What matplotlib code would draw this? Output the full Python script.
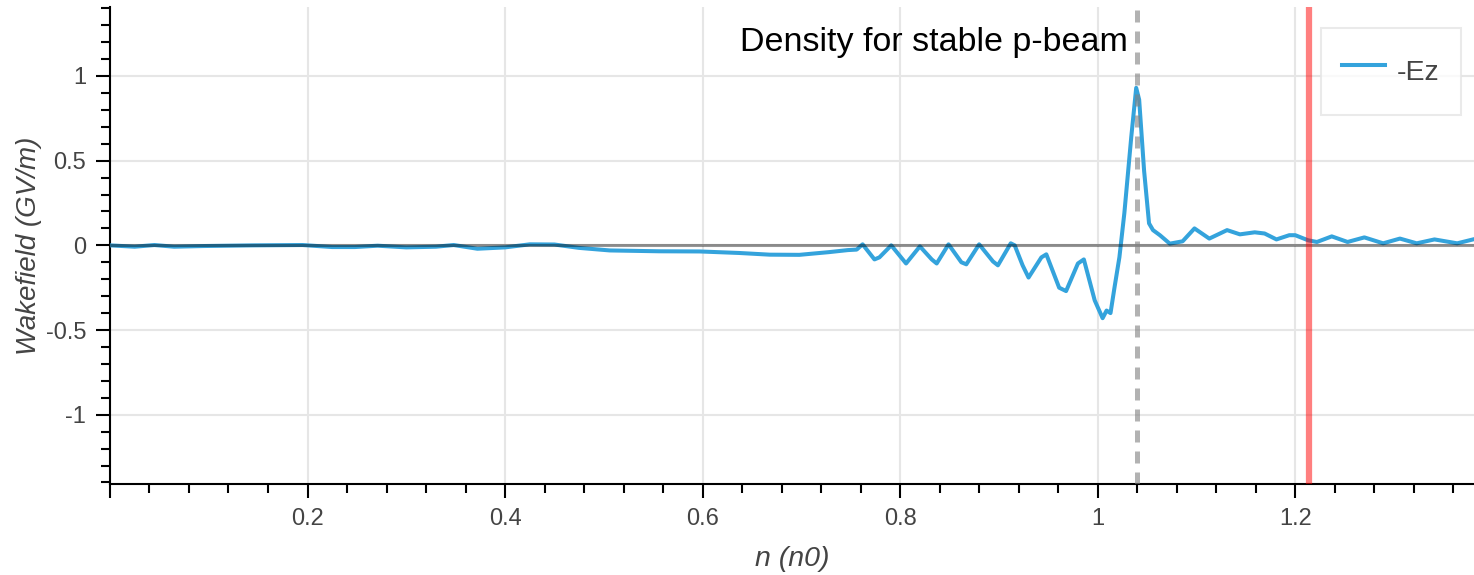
import numpy as np
import matplotlib.pyplot as plt
from matplotlib.ticker import MultipleLocator, FuncFormatter

plt.rcParams['font.family'] = ['Liberation Sans', 'DejaVu Sans']

# density n (n0) and wakefield -Ez (GV/m)
n = [0.0, 0.025, 0.045, 0.065, 0.095, 0.145, 0.195, 0.225, 0.248, 0.271,
     0.3, 0.33, 0.348, 0.372, 0.4, 0.425, 0.45, 0.475, 0.506, 0.556,
     0.597, 0.637, 0.668, 0.698, 0.728, 0.747, 0.756, 0.762, 0.774, 0.779,
     0.791, 0.806, 0.82, 0.832, 0.837, 0.849, 0.862, 0.867, 0.88, 0.894,
     0.899, 0.912, 0.916, 0.924, 0.93, 0.943, 0.948, 0.961, 0.968, 0.98,
     0.986, 0.997, 1.005, 1.009, 1.013, 1.017, 1.022, 1.027, 1.034, 1.039,
     1.042, 1.047, 1.052, 1.056, 1.063, 1.073, 1.086, 1.098, 1.113, 1.131,
     1.144, 1.159, 1.169, 1.181, 1.194, 1.2, 1.213, 1.222, 1.237, 1.253,
     1.27, 1.289, 1.306, 1.323, 1.341, 1.364, 1.38]
ez = [0.0, -0.008, 0.002, -0.008, -0.004, 0.0, 0.002, -0.01, -0.01, -0.002,
      -0.012, -0.008, 0.002, -0.02, -0.012, 0.006, 0.005, -0.015, -0.03, -0.035,
      -0.036, -0.045, -0.055, -0.056, -0.04, -0.028, -0.025, 0.006, -0.083, -0.071,
      0.0, -0.107, -0.006, -0.083, -0.107, 0.006, -0.1, -0.112, 0.006, -0.095,
      -0.118, 0.012, 0.0, -0.118, -0.19, -0.071, -0.053, -0.25, -0.27, -0.107,
      -0.083, -0.325, -0.43, -0.385, -0.40, -0.25, -0.07, 0.19, 0.64, 0.93,
      0.86, 0.44, 0.13, 0.09, 0.06, 0.01, 0.024, 0.10, 0.04, 0.09,
      0.065, 0.077, 0.07, 0.035, 0.06, 0.06, 0.03, 0.02, 0.053, 0.02,
      0.047, 0.012, 0.04, 0.012, 0.035, 0.012, 0.035]

n_stable = 1.0395
n_red = 1.2137
label_text = "Density for stable p-beam"

fig = plt.figure(figsize=(14.74, 5.75), dpi=100)
ax = fig.add_axes([0.0746, 0.158, 0.9254, 0.83])

ax.plot(n, ez, color='#34a3dc', lw=2.9, label='-Ez', zorder=3)
ax.axhline(0, color='black', alpha=0.4, lw=2.2, zorder=4)
ax.axvline(n_stable, color='grey', alpha=0.6, lw=3.6, ls=(0, (2.4, 1.8)), zorder=4)
ax.axvline(n_red, color='red', alpha=0.5, lw=4.5, zorder=4)

ax.text(n_stable - 0.009, 1.2, label_text, ha='right', va='center',
        fontsize=24.5, color='black', zorder=5)

ax.set_xlim(0, 1.381)
ax.set_ylim(-1.41, 1.408)

ax.xaxis.set_major_locator(MultipleLocator(0.2))
ax.xaxis.set_minor_locator(MultipleLocator(0.04))
ax.yaxis.set_major_locator(MultipleLocator(0.5))
ax.yaxis.set_minor_locator(MultipleLocator(0.1))
ax.xaxis.set_major_formatter(FuncFormatter(lambda v, p: '' if abs(v) < 1e-9 else '%g' % round(v, 2)))
ax.yaxis.set_major_formatter(FuncFormatter(lambda v, p: '%g' % round(v, 2)))

ax.grid(True, which='major', color='#e6e6e6', lw=1.5, zorder=0)
ax.set_axisbelow(True)

for s in ['top', 'right']:
    ax.spines[s].set_visible(False)
for s in ['left', 'bottom']:
    ax.spines[s].set_linewidth(1.5)
    ax.spines[s].set_color('black')

ax.tick_params(which='major', direction='out', length=10, width=1.5,
               color='black', labelsize=17, labelcolor='#444444', pad=7)
ax.tick_params(which='minor', direction='out', length=6.5, width=1.5, color='black')

ax.set_xlabel('n (n0)', fontsize=20.5, style='italic', color='#444444', labelpad=12)
ax.set_ylabel('Wakefield (GV/m)', fontsize=20, style='italic', color='#444444', labelpad=3)

leg = ax.legend(loc='upper right', bbox_to_anchor=(0.9905, 0.956), borderaxespad=0,
                fontsize=20.5, frameon=True, fancybox=False, handlelength=1.5,
                handleheight=2.0, borderpad=0.75, handletextpad=0.42)
leg.get_frame().set_edgecolor('#e5e5e5')
leg.get_frame().set_linewidth(1.5)
leg.set_zorder(6)
for t in leg.get_texts():
    t.set_color('#444444')

fig.savefig('out.png', dpi=100)
